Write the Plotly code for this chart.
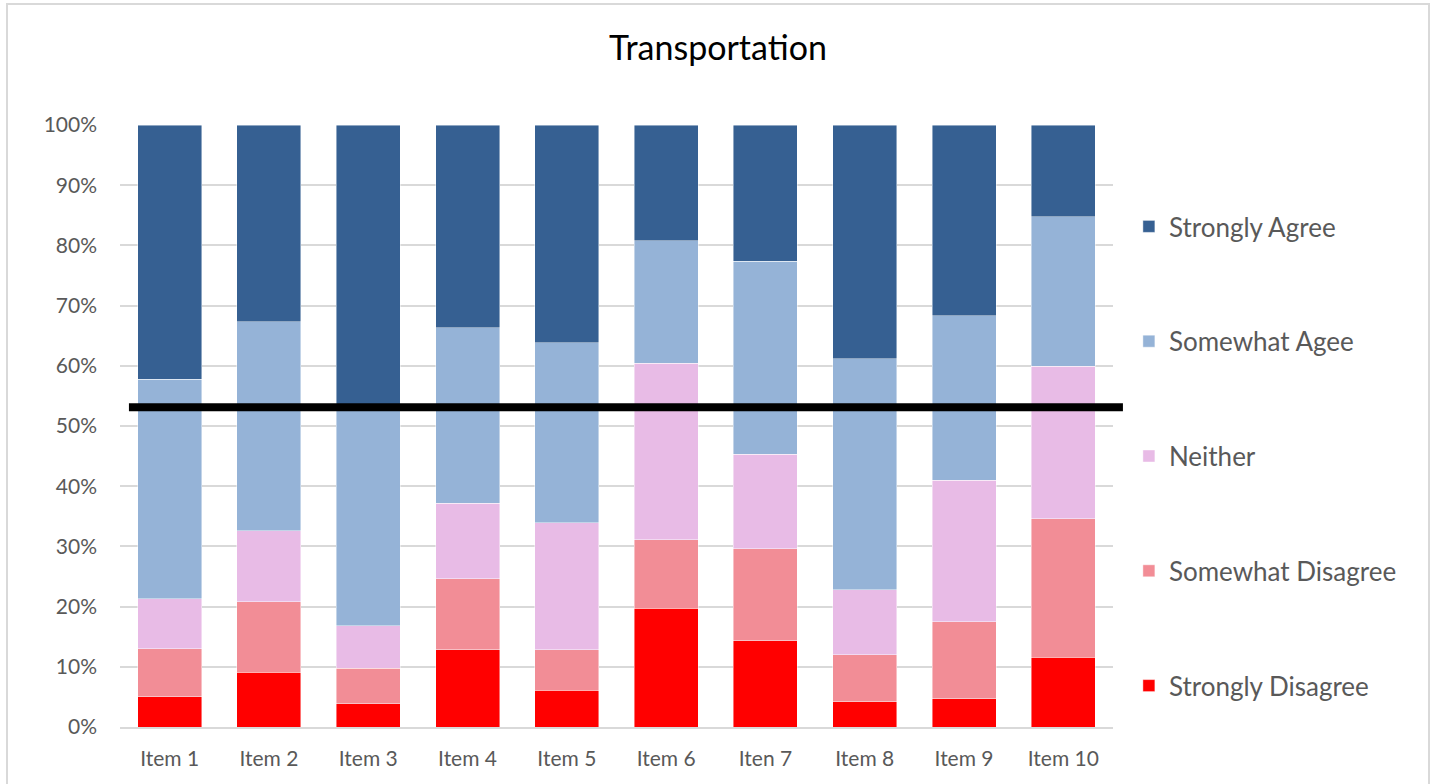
import plotly.graph_objects as go

# Survey items (the seventh label is spelled as printed on the axis)
items = ["Item 1", "Item 2", "Item 3", "Item 4", "Item 5",
         "Item 6", "Iten 7", "Item 8", "Item 9", "Item 10"]

# Share of responses per item, in percent (bottom to top of each stack)
strongly_disagree = [5.0, 9.1, 3.9, 12.8, 6.1, 19.7, 14.3, 4.2, 4.7, 11.6]
somewhat_disagree = [8.0, 11.7, 5.9, 11.8, 6.7, 11.4, 15.3, 7.8, 12.8, 23.0]
neither = [8.3, 11.8, 7.0, 12.6, 21.1, 29.3, 15.7, 10.8, 23.5, 25.3]
somewhat_agree = [36.5, 34.7, 36.4, 29.1, 29.9, 20.4, 32.1, 38.4, 27.3, 24.9]
strongly_agree = [42.2, 32.7, 46.8, 33.7, 36.2, 19.2, 22.6, 38.8, 31.7, 15.2]

y_ticks = [0, 10, 20, 30, 40, 50, 60, 70, 80, 90, 100]
y_tick_labels = ["0%", "10%", "20%", "30%", "40%", "50%",
                 "60%", "70%", "80%", "90%", "100%"]
reference_level = 53.1

series = [
    ("Strongly Disagree", strongly_disagree, "#ff0000"),
    ("Somewhat Disagree", somewhat_disagree, "#f28d96"),
    ("Neither", neither, "#e8bbe6"),
    ("Somewhat Agee", somewhat_agree, "#95b3d7"),
    ("Strongly Agree", strongly_agree, "#366092"),
]

FONT = "Lato"
TEXT = "#595959"
GRID = "#d9d9d9"

fig = go.Figure()
for i, (name, vals, color) in enumerate(series):
    fig.add_trace(go.Bar(
        name=name, x=items, y=vals,
        marker=dict(color=color, line=dict(color="rgba(255,255,255,0.55)", width=0.8)),
        legendgroup=f"g{i}",
        legendrank=len(series) - i,
        hoverinfo="x+y+name",
    ))

fig.update_layout(
    barmode="stack",
    bargap=0.355,
    width=1434, height=784,
    margin=dict(l=120, r=321, t=125, b=57),
    paper_bgcolor="white",
    plot_bgcolor="white",
    font=dict(family=FONT, color=TEXT, size=22),
    title=dict(
        text="Transportation",
        font=dict(family=FONT, size=34, color="#000000"),
        x=718 / 1434, xanchor="center",
        y=1 - 48 / 784, yanchor="middle",
    ),
    legend=dict(
        x=1.016, xanchor="left",
        y=1 - (203 - 125) / 602, yanchor="top",
        traceorder="grouped",
        tracegroupgap=78,
        font=dict(family=FONT, size=26, color=TEXT),
        bgcolor="rgba(0,0,0,0)",
    ),
    showlegend=True,
)

fig.update_xaxes(
    showgrid=False,
    showline=True, linecolor=GRID, linewidth=2,
    ticks="", tickfont=dict(size=21, color=TEXT),
    ticklabelstandoff=12,
)
fig.update_yaxes(
    range=[0, 100],
    tickmode="array", tickvals=y_ticks, ticktext=y_tick_labels,
    showgrid=True, gridcolor=GRID, gridwidth=2,
    zeroline=False, showline=False,
    ticks="", tickfont=dict(size=21, color=TEXT),
    ticklabelstandoff=22,
)

# Heavy reference line across the bars
fig.add_shape(
    type="line", xref="paper", yref="y",
    x0=0.009, x1=1.010, y0=reference_level, y1=reference_level,
    line=dict(color="#000000", width=8),
)

# Chart frame
fig.add_shape(
    type="rect", xref="paper", yref="paper",
    x0=(7 - 120) / 993, x1=(1429 - 120) / 993,
    y0=-0.2, y1=(727 - 4) / 602,
    line=dict(color=GRID, width=2),
    fillcolor="rgba(0,0,0,0)",
    layer="below",
)

fig.write_html("out.html")
